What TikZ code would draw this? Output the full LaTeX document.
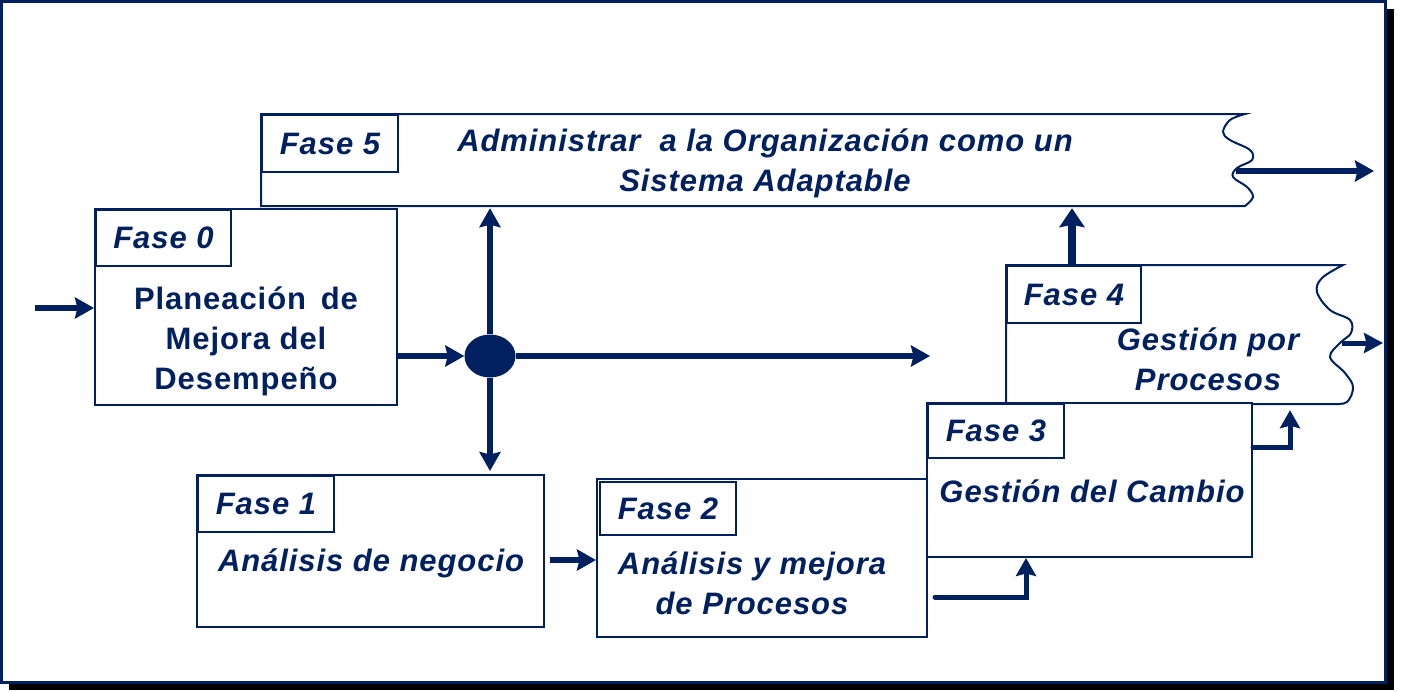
\documentclass[tikz,border=0pt]{standalone}
\usepackage{fontspec}
\setmainfont[LetterSpace=3]{Liberation Sans}
\usetikzlibrary{shapes.geometric,arrows.meta}
\definecolor{navy}{RGB}{0,32,96}
\newcommand\fasefont{\fontsize{31}{40}\selectfont\bfseries}
\begin{document}
\begin{tikzpicture}[x=1pt,y=-1pt,
  box/.style={draw=navy, line width=2pt, inner sep=0, fill=white},
  lbl/.style={draw=navy, line width=2pt, inner sep=0, anchor=north west, font=\fasefont\itshape, text=navy},
  txt/.style={text=navy, font=\fasefont\itshape, align=center, inner sep=0},
  txtup/.style={text=navy, font=\fasefont, align=center, inner sep=0},
  arr/.style={draw=navy, line width=5.5pt, -{Stealth[length=19pt,width=21pt,inset=2.5pt]}},
  arrthick/.style={draw=navy, line width=8pt, -{Stealth[length=19pt,width=25pt,inset=2.5pt]}},
  elbow/.style={draw=navy, line width=5pt, line cap=round, -{Stealth[length=18pt,width=20pt,inset=2.5pt]}}]
\useasboundingbox (0,0) rectangle (1402,691);
% frame with shadow
\fill[black] (9,9) rectangle (1394,690);
\draw[navy, line width=3pt, fill=white] (1.5,1.5) rectangle (1385.5,682.5);

% Fase 5 (wavy right side)
\draw[navy, line width=2pt, fill=white] (1245,114) -- (261,114) -- (261,206) -- (1245,206)
  -- plot[smooth, tension=0.6] coordinates {(1245,206) (1253,197) (1247,187) (1233,177) (1237,168) (1252,160) (1250,150) (1230,140) (1223,132) (1230,120) (1245,114)} -- cycle;
\node[inner sep=0, minimum width=989, minimum height=92] (f5) at (755.5,160) {};
\node[lbl, minimum width=136, minimum height=57] (l5) at (261,114) {Fase 5};
\node[txt] (t5) at (765,163) {Administrar \ a la Organización como un\\Sistema Adaptable};

% Fase 4 (wavy right side)
\draw[navy, line width=2pt, fill=white] (1343,265) -- (1006,265) -- (1006,404) -- (1333,404)
  -- plot[smooth, tension=0.6] coordinates {(1333,404) (1347,402) (1353,387) (1345,373) (1330,357) (1340,343) (1351,333) (1350,320) (1330,310) (1317,292) (1322,278) (1343,265)} -- cycle;
\node[inner sep=0, minimum width=339, minimum height=139] (f4) at (1175.5,334.5) {};
\node[lbl, minimum width=134, minimum height=57] (l4) at (1006,265) {Fase 4};
\node[txt] (t4) at (1208,359) {Gestión por\\Procesos};

% Fase 0
\node[box, minimum width=302, minimum height=196] (f0) at (246,307) {};
\node[lbl, minimum width=135, minimum height=56] (l0) at (95,209) {Fase 0};
\node[txtup] (t0) at (246,341) {Planeación \,de\\Mejora del\\Desempeño};

% Fase 1
\node[box, minimum width=347, minimum height=152] (f1) at (370.5,551) {};
\node[lbl, minimum width=136, minimum height=56] (l1) at (197,475) {Fase 1};
\node[txt, anchor=base] (t1) at (371,571) {Análisis de negocio};

% Fase 2
\node[box, minimum width=330, minimum height=158] (f2) at (762,558) {};
\node[lbl, minimum width=136, minimum height=53] (l2) at (599,481) {Fase 2};
\node[txt] (t2) at (752,583) {Análisis y mejora\\de Procesos};

% Fase 3
\node[box, minimum width=325, minimum height=154] (f3) at (1089.5,480) {};
\node[lbl, minimum width=136, minimum height=54] (l3) at (927,403) {Fase 3};
\node[txt, anchor=base] (t3) at (1092,502) {Gestión del Cambio};

% junction
\node[ellipse, fill=navy, minimum width=51, minimum height=43, inner sep=0] (j) at (490,356) {};

% connectors
\coordinate (in0) at (35,308);
\draw[arr] (in0) -- (in0 -| f0.west);
\draw[arr] (f0.east |- j.west) -- (j.west);
\draw[arr, shorten >=2pt] (j.north) -- (j.north |- f5.south);
\draw[arr, shorten >=3pt] (j.south) -- (j.south |- f1.north);
\coordinate (jr) at (930,356);
\draw[arr] (j.east) -- (jr);
\draw[arr, shorten <=5pt] (f1.east |- 0,560) -- (f2.west |- 0,560);
\coordinate (c23) at (1026,597);
\draw[elbow, shorten <=7pt] (f2.east |- c23) -| (c23 |- f3.south);
\coordinate (c34) at (1290,447);
\draw[elbow, shorten >=6pt] (f3.east |- c34) -| (c34 |- f4.south);
\coordinate (a45) at (1072,265);
\draw[arrthick, shorten >=2pt] (a45) -- (a45 |- f5.south);
\coordinate (o5a) at (1236,171);
\coordinate (o5b) at (1374,171);
\draw[arr] (o5a) -- (o5b);
\coordinate (o4a) at (1342,343);
\coordinate (o4b) at (1383,343);
\draw[draw=navy, line width=5pt, -{Stealth[length=19pt,width=20pt,inset=2.5pt]}] (o4a) -- (o4b);
\end{tikzpicture}
\end{document}
